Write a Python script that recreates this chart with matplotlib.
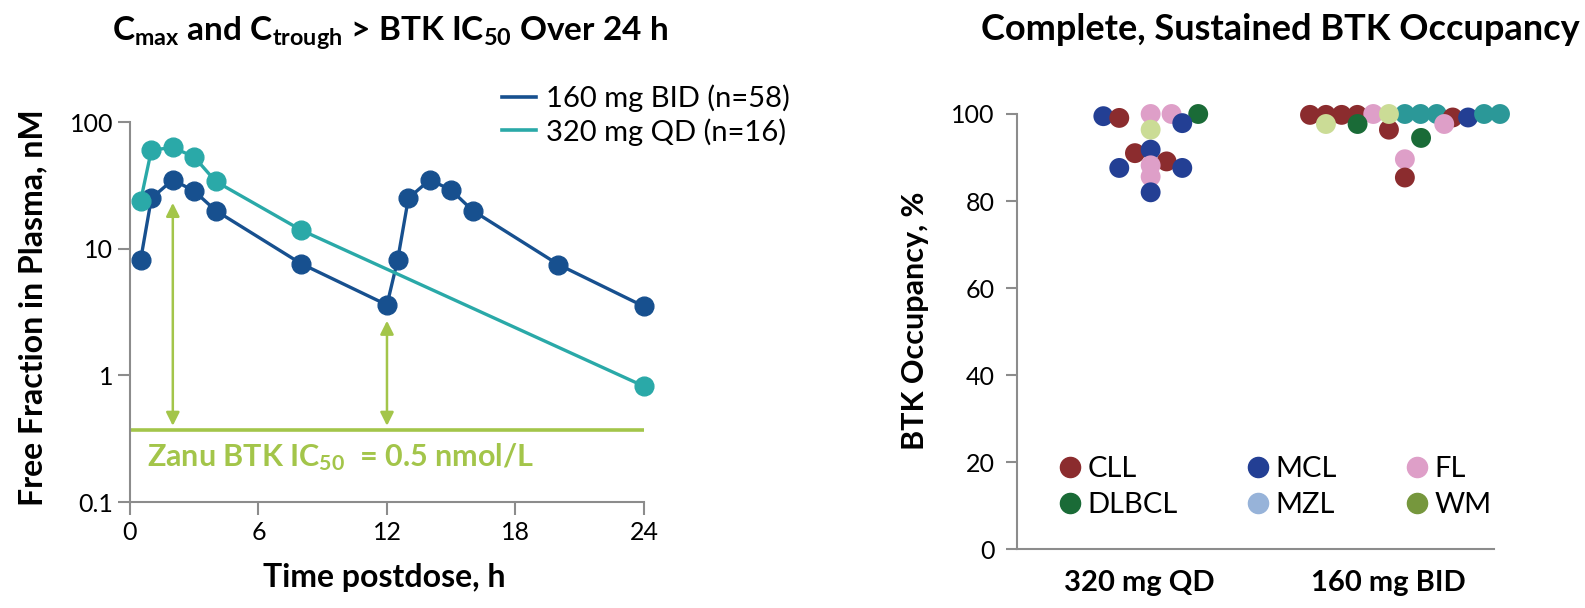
import matplotlib
matplotlib.use("Agg")
import matplotlib.pyplot as plt
from matplotlib.lines import Line2D
import numpy as np

plt.rcParams['font.family'] = ['Lato', 'DejaVu Sans']
plt.rcParams['mathtext.fontset'] = 'custom'
plt.rcParams['mathtext.rm'] = 'Lato'
plt.rcParams['mathtext.bf'] = 'Lato:bold'
plt.rcParams['mathtext.it'] = 'Lato:italic'

# ---- left panel data (free fraction in plasma, nM) ----
t_bid = [0.5, 1, 2, 3, 4, 8, 12, 12.5, 13, 14, 15, 16, 20, 24]
c_bid = [8.2, 25, 35, 28.5, 20, 7.6, 3.6, 8.2, 25, 35, 29, 20, 7.5, 3.5]
t_qd = [0.5, 1, 2, 3, 4, 8, 24]
c_qd = [24, 60, 63, 53, 34, 14, 0.82]
ic50_level = 0.37
arrow_times = [2, 12]
arrow_tops = [23, 2.7]
series_labels = ['160 mg BID (n=58)', '320 mg QD (n=16)']

# ---- right panel data (BTK occupancy, %) ----
arms = ['320 mg QD', '160 mg BID']
# arm index, horizontal jitter, occupancy, disease
occ_arm = [0] * 15 + [1] * 20
occ_jit = [-0.143, -0.079, 0.047, 0.131, 0.238, 0.047, -0.016, 0.047, 0.111,
           -0.079, 0.174, 0.174, 0.047, 0.047, 0.047,
           -0.313, -0.249, -0.186, -0.123, -0.059, 0.004, 0.068, 0.131, 0.196,
           0.26, 0.322, 0.386, 0.45, -0.249, -0.122, 0.004, 0.226, 0.133,
           0.068, 0.068]
occ_val = [99.5, 99.1, 100, 100, 100, 96.4, 91.0, 91.8, 89.1,
           87.6, 97.9, 87.6, 88.2, 85.6, 82.0,
           99.8, 99.8, 99.8, 99.8, 100, 96.4, 100, 100, 100,
           99.2, 99.2, 100, 100, 97.7, 97.7, 100, 97.7, 94.5,
           89.6, 85.4]
occ_grp = ['MCL', 'CLL', 'FL', 'FL', 'DLBCL', 'WMp', 'CLL', 'MCL', 'CLL',
           'MCL', 'MCL', 'MCL', 'FL', 'FL', 'MCL',
           'CLL', 'CLL', 'CLL', 'CLL', 'FL', 'CLL', 'TEAL', 'TEAL', 'TEAL',
           'CLL', 'MCL', 'TEAL', 'TEAL', 'WMp', 'DLBCL', 'WMp', 'FL', 'DLBCL',
           'FL', 'CLL']

legend_groups = ['CLL', 'DLBCL', 'MCL', 'MZL', 'FL', 'WM']
colors = {'CLL': '#8b2c2e', 'MCL': '#233f94', 'FL': '#de9fc8',
          'DLBCL': '#1a6b37', 'MZL': '#97b3d9', 'WM': '#76973d',
          'WMp': '#cbdc96', 'TEAL': '#2b9898'}

blue = '#17508f'
teal = '#2aa9a8'
green = '#a3c54a'
gray = '#8c8c8c'

fig = plt.figure(figsize=(15.85, 6.08), dpi=100)

# ================= left panel =================
ax1 = fig.add_axes([0.0820, 0.1743, 0.3243, 0.625])
ax1.set_yscale('log')
ax1.set_xlim(0, 24)
ax1.set_ylim(0.1, 100)

ax1.axhline(ic50_level, color=green, lw=2.6, zorder=1)
for xt, yt in zip(arrow_times, arrow_tops):
    ax1.annotate('', xy=(xt, yt), xytext=(xt, ic50_level * 1.08),
                 arrowprops=dict(arrowstyle='<|-|>', color=green, lw=1.8,
                                 mutation_scale=20, shrinkA=0, shrinkB=0))

ax1.plot(t_bid, c_bid, '-o', color=blue, lw=2.4, ms=13.5, clip_on=False, zorder=3)
ax1.plot(t_qd, c_qd, '-o', color=teal, lw=2.4, ms=13.5, clip_on=False, zorder=3)

ax1.text(0.8, 0.225, r'Zanu BTK IC$_{\mathbf{50}}$  = 0.5 nmol/L', color=green,
         fontsize=22, fontweight='bold', va='center')

ax1.set_xticks([0, 6, 12, 18, 24])
ax1.set_yticks([0.1, 1, 10, 100])
ax1.set_yticklabels(['0.1', '1', '10', '100'])
ax1.yaxis.set_minor_locator(matplotlib.ticker.NullLocator())
ax1.tick_params(axis='both', labelsize=18, color=gray, width=1.5, length=9)
ax1.tick_params(axis='x', pad=5)
ax1.tick_params(axis='y', pad=3)
for s in ['top', 'right']:
    ax1.spines[s].set_visible(False)
for s in ['left', 'bottom']:
    ax1.spines[s].set_color(gray)
    ax1.spines[s].set_linewidth(1.5)

line_handles = [Line2D([], [], color=blue, lw=2.6), Line2D([], [], color=teal, lw=2.6)]
ax1.legend(line_handles, series_labels, loc='center left',
           bbox_to_anchor=(502 / 1585, 1 - 115 / 608), bbox_transform=fig.transFigure,
           frameon=False, fontsize=21, handlelength=1.15, handletextpad=0.35,
           labelspacing=0.2, borderpad=0, borderaxespad=0)

fig.text(390 / 1585, 1 - 33 / 608,
         r'C$_{\mathbf{max}}$ and C$_{\mathbf{trough}}$ > BTK IC$_{\mathbf{50}}$ Over 24 h',
         ha='center', va='center', fontsize=24, fontweight='bold')
fig.text(33 / 1585, 1 - 308 / 608, 'Free Fraction in Plasma, nM', rotation=90,
         ha='center', va='center', fontsize=23, fontweight='bold')
fig.text(384 / 1585, 1 - 578 / 608, 'Time postdose, h', ha='center', va='center',
         fontsize=23, fontweight='bold')

# ================= right panel =================
ax2 = fig.add_axes([0.6416, 0.0970, 0.301, 0.7155])
ax2.set_xlim(-0.49, 1.426)
ax2.set_ylim(0, 100)

xs = np.array(occ_arm) + np.array(occ_jit)
ax2.scatter(xs, occ_val, s=205, c=[colors[g] for g in occ_grp], linewidths=0,
            clip_on=False, zorder=3)

ax2.set_xticks([0, 1])
ax2.set_xticklabels(arms, fontsize=21, fontweight='bold')
ax2.set_yticks([0, 20, 40, 60, 80, 100])
ax2.tick_params(axis='x', length=0, pad=15)
ax2.tick_params(axis='y', labelsize=18, color=gray, width=1.5, length=8, pad=8)
for s in ['top', 'right']:
    ax2.spines[s].set_visible(False)
for s in ['left', 'bottom']:
    ax2.spines[s].set_color(gray)
    ax2.spines[s].set_linewidth(1.5)

handles = [Line2D([], [], ls='', marker='o', ms=14.5, color=colors[g]) for g in legend_groups]
ax2.legend(handles, legend_groups, ncol=3, loc='center left',
           bbox_to_anchor=(1058 / 1585, 1 - 487 / 608), bbox_transform=fig.transFigure,
           frameon=False, fontsize=21, handlelength=0.8, handletextpad=0.2,
           columnspacing=2.35, labelspacing=0.35, borderpad=0, borderaxespad=0)

fig.text(1280 / 1585, 1 - 30 / 608, 'Complete, Sustained BTK Occupancy', ha='center',
         va='center', fontsize=26, fontweight='bold')
fig.text(915 / 1585, 1 - 321 / 608, 'BTK Occupancy, %', rotation=90, ha='center',
         va='center', fontsize=22, fontweight='bold')

fig.savefig('out.png', dpi=100)
